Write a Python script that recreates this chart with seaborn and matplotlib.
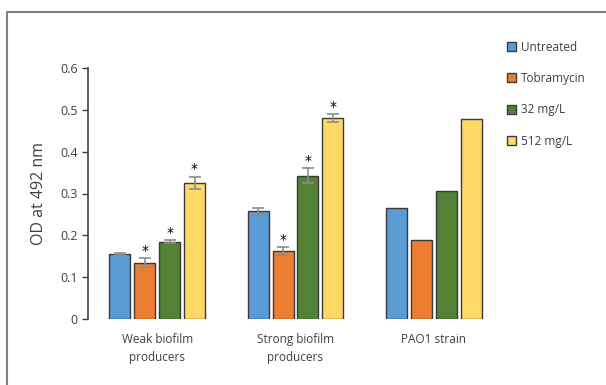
import matplotlib
matplotlib.use("Agg")
import matplotlib.pyplot as plt
import seaborn as sns
import pandas as pd
from matplotlib.lines import Line2D
from matplotlib.patches import Patch

categories = ["Weak biofilm\nproducers", "Strong biofilm\nproducers", "PAO1 strain"]
treatments = ["Untreated", "Tobramycin", "32 mg/L", "512 mg/L"]
untreated = [0.155, 0.257, 0.265]
tobramycin = [0.135, 0.162, 0.188]
mg32 = [0.185, 0.343, 0.305]
mg512 = [0.325, 0.480, 0.477]
err_untreated = [0.003, 0.009, 0.0]
err_tobramycin = [0.010, 0.009, 0.0]
err_mg32 = [0.003, 0.018, 0.0]
err_mg512 = [0.015, 0.009, 0.0]
sig_untreated = [False, False, False]
sig_tobramycin = [True, True, False]
sig_mg32 = [True, True, False]
sig_mg512 = [True, True, False]
yticks = [0, 0.1, 0.2, 0.3, 0.4, 0.5, 0.6]
ytick_labels = ["0", "0.1", "0.2", "0.3", "0.4", "0.5", "0.6"]

colors = ["#5B9BD5", "#ED7D31", "#548235", "#FFD966"]
values = [untreated, tobramycin, mg32, mg512]
errors = [err_untreated, err_tobramycin, err_mg32, err_mg512]
sigs = [sig_untreated, sig_tobramycin, sig_mg32, sig_mg512]

rows = []
for t, vals in zip(treatments, values):
    for c, v in zip(categories, vals):
        rows.append({"group": c, "treatment": t, "od": v})
df = pd.DataFrame(rows)

sns.set_theme(style="white")
plt.rcParams["font.family"] = ["Open Sans", "DejaVu Sans"]
text_col = "#404040"

fig = plt.figure(figsize=(6.06, 3.85), dpi=100)
ax = fig.add_axes([88/606, 1-319/385, (503-88)/606, (319-68)/385])

sns.barplot(data=df, x="group", y="od", hue="treatment", order=categories,
            hue_order=treatments, palette=colors, saturation=1, width=0.72, gap=0.16,
            edgecolor="#3a3a3a", linewidth=1.0, errorbar=None, legend=False, ax=ax)

for cont, errs, sg in zip(ax.containers, errors, sigs):
    for bar, e, s in zip(cont, errs, sg):
        xc = bar.get_x() + bar.get_width()/2
        h = bar.get_height()
        if e > 0:
            ax.errorbar(xc, h, yerr=e, fmt="none", ecolor="#8c8c8c",
                        elinewidth=1.2, capsize=4, capthick=1.2, zorder=5)
        if s:
            ax.text(xc, h + e + 0.001, "*", ha="center", va="bottom",
                    fontsize=10, color="black", family=["DejaVu Sans"])

ax.set_xlim(-0.5, 2.5)
ax.set_ylim(0, 0.6)
ax.set_yticks(yticks)
ax.set_yticklabels(ytick_labels, color=text_col, fontsize=9)
ax.tick_params(axis="y", length=4, width=1, color="#404040", direction="out", left=True)
ax.tick_params(axis="x", length=0, pad=10, labelsize=8.5, labelcolor=text_col)
for lab in ax.get_xticklabels():
    lab.set_linespacing(1.5)
for sp in ["top", "right", "bottom"]:
    ax.spines[sp].set_visible(False)
ax.spines["left"].set_color("#404040")
ax.spines["left"].set_linewidth(1.2)
ax.set_xlabel("")
ax.set_ylabel("OD at 492 nm", color=text_col, fontsize=11.5, labelpad=9)

handles = [Patch(facecolor=c, edgecolor="#3a3a3a", linewidth=1.0) for c in colors]
fig.legend(handles, treatments, loc="upper left", bbox_to_anchor=(502/606, 1-36/385),
           frameon=False, fontsize=8.5, handlelength=0.8, handleheight=0.8,
           handletextpad=0.4, labelspacing=1.55, labelcolor=text_col, borderaxespad=0)

fig.add_artist(Line2D([7/606, 7/606], [0, 1-12/385], color="#7f7f7f", lw=1.5, transform=fig.transFigure))
fig.add_artist(Line2D([7/606, 1], [1-12/385, 1-12/385], color="#7f7f7f", lw=1.5, transform=fig.transFigure))

fig.savefig("out.png", dpi=100)
